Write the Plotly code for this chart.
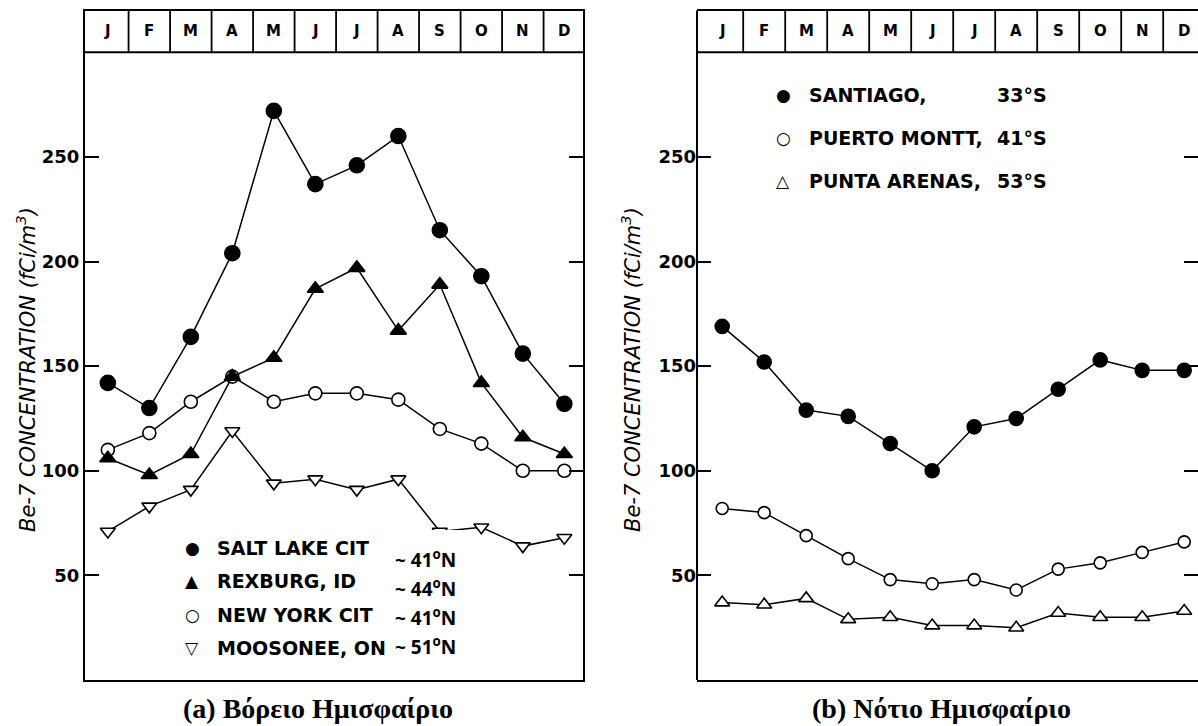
import plotly.graph_objects as go

# Monthly mean Be-7 surface air concentrations (fCi/m^3)
months = ["J", "F", "M", "A", "M", "J", "J", "A", "S", "O", "N", "D"]
month_num = list(range(1, 13))

salt_lake = [142, 130, 164, 204, 272, 237, 246, 260, 215, 193, 156, 132]
rexburg = [106, 98, 108, 145, 154, 187, 197, 167, 189, 142, 116, 108]
new_york = [110, 118, 133, 145, 133, 137, 137, 134, 120, 113, 100, 100]
moosonee = [71, 83, 91, 119, 94, 96, 91, 96, 71, 73, 64, 68]

santiago = [169, 152, 129, 126, 113, 100, 121, 125, 139, 153, 148, 148]
puerto_montt = [82, 80, 69, 58, 48, 46, 48, 43, 53, 56, 61, 66]
punta_arenas = [37, 36, 39, 29, 30, 26, 26, 25, 32, 30, 30, 33]

y_ticks = [50, 100, 150, 200, 250]

north_names = ["SALT LAKE CIT", "REXBURG, ID", "NEW YORK CIT", "MOOSONEE, ON"]
north_glyphs = ["●", "▲", "○", "▽"]
north_lat = ["~ 41<sup>o</sup>N", "~ 44<sup>o</sup>N", "~ 41<sup>o</sup>N", "~ 51<sup>o</sup>N"]

south_names = ["SANTIAGO,", "PUERTO MONTT,", "PUNTA ARENAS,"]
south_glyphs = ["●", "○", "△"]
south_lat = ["33°S", "41°S", "53°S"]

captions = ["(a) Βόρειο Ημισφαίριο", "(b) Νότιο Ημισφαίριο"]
y_title = "<i>Be-7 CONCENTRATION (fCi/m<sup>3</sup>)</i>"

W, H = 1198, 726
SANS = "DejaVu Sans"

fig = go.Figure()


def add_series(xa, ya, values, symbol, filled, size):
    fig.add_trace(go.Scatter(
        x=month_num, y=values, mode="lines+markers",
        xaxis=xa, yaxis=ya, showlegend=False, hoverinfo="skip",
        line=dict(color="black", width=1.5),
        marker=dict(symbol=symbol, size=size,
                    color="black" if filled else "white",
                    line=dict(color="black", width=1.6)),
    ))


# (a) northern stations
add_series("x", "y", moosonee, "triangle-down", False, 13)
add_series("x", "y", new_york, "circle", False, 13)
add_series("x", "y", rexburg, "triangle-up", True, 14)
add_series("x", "y", salt_lake, "circle", True, 15)

# (b) southern stations
add_series("x2", "y2", punta_arenas, "triangle-up", False, 13)
add_series("x2", "y2", puerto_montt, "circle", False, 12)
add_series("x2", "y2", santiago, "circle", True, 14)

hidden = dict(showgrid=False, zeroline=False, showticklabels=False,
              ticks="", tickmode="array", tickvals=[], fixedrange=True)
yax = dict(range=[0, 320], domain=[46 / H, 715.5 / H], tickvals=y_ticks,
           ticks="inside", ticklen=14, tickwidth=2, tickcolor="black",
           mirror="ticks", showgrid=False, zeroline=False, fixedrange=True,
           tickfont=dict(family=SANS, size=18, color="black", weight="bold"))

fig.update_layout(
    width=W, height=H, margin=dict(l=0, r=0, t=0, b=0),
    paper_bgcolor="white", plot_bgcolor="white",
    xaxis=dict(domain=[85 / W, 583 / W], range=[0.45, 12.45], anchor="y",
               showline=True, linecolor="black", linewidth=2, mirror=True,
               **hidden),
    xaxis2=dict(domain=[697 / W, 1.0], range=[0.4, 0.4 + (W - 697) / 42],
                anchor="y2", showline=True, linecolor="black", linewidth=2,
                mirror=True, **hidden),
    yaxis=dict(anchor="x", showline=True, linecolor="black", linewidth=2,
               **yax),
    yaxis2=dict(anchor="x2", showline=False, **yax),
)

shapes = []
# left edge of panel (b)
shapes.append(dict(type="line", xref="x2 domain", yref="y2 domain",
                   x0=0, x1=0, y0=0, y1=1,
                   line=dict(color="black", width=2)))
# month strip along the top of each panel
for xa, ya in (("x", "y"), ("x2", "y2")):
    shapes.append(dict(type="line", xref=f"{xa} domain", yref=ya,
                       x0=0, x1=1, y0=300, y1=300,
                       line=dict(color="black", width=2)))
    for k in range(1, 12):
        shapes.append(dict(type="line", xref=xa, yref=ya,
                           x0=k + 0.5, x1=k + 0.5, y0=300, y1=320,
                           line=dict(color="black", width=1.8)))

# white patch behind the latitude notes
shapes.append(dict(type="rect", xref="paper", yref="paper", layer="above",
                   x0=374 / W, x1=472 / W, y0=1 - 664 / H, y1=1 - 530 / H,
                   fillcolor="white", line=dict(width=0)))


def note(x, y, text, font, xanchor="left", **kw):
    return dict(xref="paper", yref="paper", x=x / W, y=1 - y / H, text=text,
                showarrow=False, xanchor=xanchor, yanchor="middle",
                font=font, **kw)


annotations = []
for xa, ya in (("x", "y"), ("x2", "y2")):
    for m, lab in zip(month_num, months):
        annotations.append(dict(xref=xa, yref=ya, x=m, y=310, text=lab,
                                showarrow=False, xanchor="center",
                                yanchor="middle",
                                font=dict(family=SANS, size=15, color="black",
                                          weight="bold")))

# rotated y-axis titles
for xc in (26, 631):
    annotations.append(note(xc, 370, y_title,
                            dict(family=SANS, size=21, color="black"),
                            xanchor="center", textangle=-90))

glyph_font = dict(family=SANS, size=17, color="black")
key_font = dict(family=SANS, size=19, color="black", weight="bold")

# key of panel (a)
for i, (g, nm, lat) in enumerate(zip(north_glyphs, north_names, north_lat)):
    yr = 548 + 33.3 * i
    annotations.append(note(192, yr, g, glyph_font, xanchor="center"))
    annotations.append(note(215, yr, nm, key_font))
    annotations.append(note(393, 559 + 29 * i, lat,
                            dict(family="Open Sans", size=19, color="black",
                                 weight="bold")))

# key of panel (b)
for i, (g, nm, lat) in enumerate(zip(south_glyphs, south_names, south_lat)):
    yr = 95 + 43 * i
    annotations.append(note(783, yr, g, glyph_font, xanchor="center"))
    annotations.append(note(807, yr, nm, key_font))
    annotations.append(note(995, yr, lat, key_font))

# panel captions
for xc, cap in zip((318, 941), captions):
    annotations.append(note(xc, 708, cap,
                            dict(family="Liberation Serif", size=28,
                                 color="black", weight="bold"),
                            xanchor="center"))

fig.update_layout(shapes=shapes, annotations=annotations)
fig.write_html("out.html")
